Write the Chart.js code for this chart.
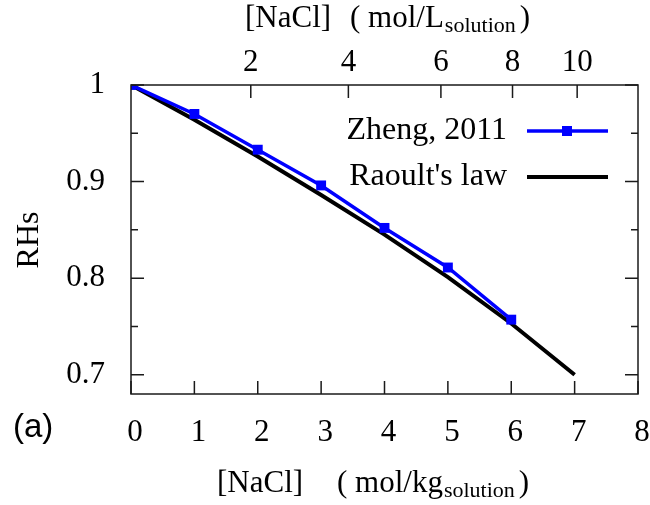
<!DOCTYPE html>
<html>
<head>
<meta charset="utf-8">
<script src="https://cdn.jsdelivr.net/npm/chart.js@4"></script>
<style>
  body { margin: 0; background: #fff; }
  #okvir { width: 650px; height: 505px; }
</style>
</head>
<body>
<div id="okvir"><canvas id="graf"></canvas></div>
<script>
// podaci ocitani sa slike
const molalnost = [0, 1, 2, 3, 4, 5, 6, 7];
const zheng = [1.0, 0.970, 0.933, 0.896, 0.852, 0.811, 0.757];
const raoult = [1.0, 0.964, 0.926, 0.886, 0.845, 0.801, 0.753, 0.700];
const xTicks = [0, 1, 2, 3, 4, 5, 6, 7, 8];
const yTicks = [0.7, 0.75, 0.8, 0.85, 0.9, 0.95, 1.0];
const yMajor = [0.7, 0.8, 0.9, 1.0];
const yLabels = ['0.7', '0.8', '0.9', '1'];
// gornja os: mol/L oznake i njihov polozaj u mol/kg
const gornjeOznake = ['2', '4', '6', '8', '10'];
const gornjiPolozaj = [1.89, 3.43, 4.89, 6.02, 7.04];

const serif = 'Liberation Serif';

function tocke(xs, ys) {
    return ys.map((y, i) => ({ x: xs[i], y: y }));
}

// bez automatskog prostora za rubne oznake
function fiksiraj(s, vel) {
    if (s.isHorizontal()) s.height = vel; else s.width = vel;
    s.paddingLeft = 0;
    s.paddingRight = 0;
    s.paddingTop = 0;
    s.paddingBottom = 0;
}

// naslov osi s indeksom
function naslov(ctx, x, y, glavni, indeks) {
    ctx.font = '31px "' + serif + '"';
    ctx.fillText(glavni, x, y);
    let kraj = x + ctx.measureText(glavni).width + 1;
    ctx.font = '22px "' + serif + '"';
    ctx.fillText(indeks, kraj, y + 5);
    kraj += ctx.measureText(indeks).width + 4;
    ctx.font = '31px "' + serif + '"';
    ctx.fillText(')', kraj, y);
}

// okvir, kvacice, naslovi osi i legenda
const crtez = {
    id: 'crtez',
    afterDatasetsDraw(chart) {
        const ctx = chart.ctx;
        const a = chart.chartArea;
        const x = chart.scales.x;
        const y = chart.scales.y;
        const xg = chart.scales.x2;
        ctx.save();
        ctx.strokeStyle = '#1a1a1a';
        ctx.lineWidth = 1.5;
        ctx.beginPath();
        xTicks.forEach(v => {
            const px = x.getPixelForValue(v);
            ctx.moveTo(px, a.bottom);
            ctx.lineTo(px, a.bottom - 13);
        });
        gornjiPolozaj.forEach(v => {
            const px = xg.getPixelForValue(v);
            ctx.moveTo(px, a.top);
            ctx.lineTo(px, a.top + 13);
        });
        yTicks.forEach(v => {
            const py = y.getPixelForValue(v);
            const d = yMajor.some(m => Math.abs(m - v) < 1e-6) ? 13 : 7;
            ctx.moveTo(a.left, py);
            ctx.lineTo(a.left + d, py);
            ctx.moveTo(a.right, py);
            ctx.lineTo(a.right - d, py);
        });
        ctx.stroke();
        ctx.strokeRect(a.left, a.top, a.right - a.left, a.bottom - a.top);

        ctx.fillStyle = '#000';
        ctx.textBaseline = 'alphabetic';
        ctx.textAlign = 'left';

        // donji i gornji naslov
        ctx.font = '31px "' + serif + '"';
        ctx.fillText('[NaCl]', 217, 492);
        naslov(ctx, 337, 492, '( mol/kg', 'solution');
        ctx.font = '31px "' + serif + '"';
        ctx.fillText('[NaCl]', 245, 27);
        naslov(ctx, 350, 27, '( mol/L', 'solution');

        // y naslov
        ctx.save();
        ctx.translate(30, 240);
        ctx.rotate(-Math.PI / 2);
        ctx.textAlign = 'center';
        ctx.textBaseline = 'middle';
        ctx.font = '32px "' + serif + '"';
        ctx.fillText('RHs', 0, 0);
        ctx.restore();

        // (a)
        ctx.font = '33px "Liberation Sans"';
        ctx.textBaseline = 'middle';
        ctx.fillText('(a)', 13, 428);

        // legenda
        ctx.font = '32px "' + serif + '"';
        ctx.textAlign = 'right';
        chart.data.datasets.forEach((ds, i) => {
            const ly = 131 + i * 46;
            ctx.fillStyle = '#000';
            ctx.fillText(ds.label, 507, ly);
            ctx.strokeStyle = ds.borderColor;
            ctx.lineWidth = ds.borderWidth;
            ctx.beginPath();
            ctx.moveTo(527, ly);
            ctx.lineTo(608, ly);
            ctx.stroke();
            if (ds.pointRadius > 0) {
                ctx.fillStyle = ds.borderColor;
                ctx.fillRect(567 - 5, ly - 5, 10, 10);
            }
        });
        ctx.restore();
    }
};

const ctx = document.getElementById('graf').getContext('2d');
new Chart(ctx, {
    type: 'line',
    data: {
        datasets: [{
            label: 'Zheng, 2011',
            data: tocke(molalnost, zheng),
            borderColor: '#0000ff',
            backgroundColor: '#0000ff',
            borderWidth: 3.5,
            pointStyle: 'rect',
            pointRadius: 7,
            pointBorderWidth: 0,
            fill: false
        }, {
            label: "Raoult's law",
            data: tocke(molalnost, raoult),
            borderColor: '#000000',
            borderWidth: 4,
            pointRadius: 0,
            fill: false
        }]
    },
    options: {
        responsive: true,
        maintainAspectRatio: false,
        animation: false,
        layout: { padding: { left: 0, right: 12, top: 0, bottom: 0 } },
        plugins: { legend: { display: false }, tooltip: { enabled: false } },
        scales: {
            x: {
                type: 'linear',
                position: 'bottom',
                min: 0,
                max: 8,
                afterBuildTicks: s => { s.ticks = xTicks.map(v => ({ value: v })); },
                afterFit: s => fiksiraj(s, 111),
                grid: { display: false },
                border: { display: false },
                ticks: {
                    color: '#000',
                    padding: 12,
                    labelOffset: 4,
                    maxRotation: 0,
                    autoSkip: false,
                    font: { family: serif, size: 31, lineHeight: 1.2 }
                }
            },
            x2: {
                type: 'linear',
                position: 'top',
                min: 0,
                max: 8,
                afterBuildTicks: s => { s.ticks = gornjiPolozaj.map(v => ({ value: v })); },
                afterFit: s => fiksiraj(s, 85),
                grid: { display: false },
                border: { display: false },
                ticks: {
                    color: '#000',
                    padding: -4,
                    maxRotation: 0,
                    autoSkip: false,
                    callback: (v, i) => gornjeOznake[i],
                    font: { family: serif, size: 31, lineHeight: 1.2 }
                }
            },
            y: {
                type: 'linear',
                position: 'left',
                min: 0.68,
                max: 1.0,
                afterBuildTicks: s => { s.ticks = yTicks.map(v => ({ value: v })); },
                afterFit: s => fiksiraj(s, 131),
                grid: { display: false },
                border: { display: false },
                ticks: {
                    color: '#000',
                    padding: 18,
                    autoSkip: false,
                    callback: v => {
                        const k = yMajor.findIndex(m => Math.abs(m - v) < 1e-6);
                        return k >= 0 ? yLabels[k] : '';
                    },
                    font: { family: serif, size: 31, lineHeight: 1.2 }
                }
            }
        }
    },
    plugins: [crtez]
});
</script>
</body>
</html>
